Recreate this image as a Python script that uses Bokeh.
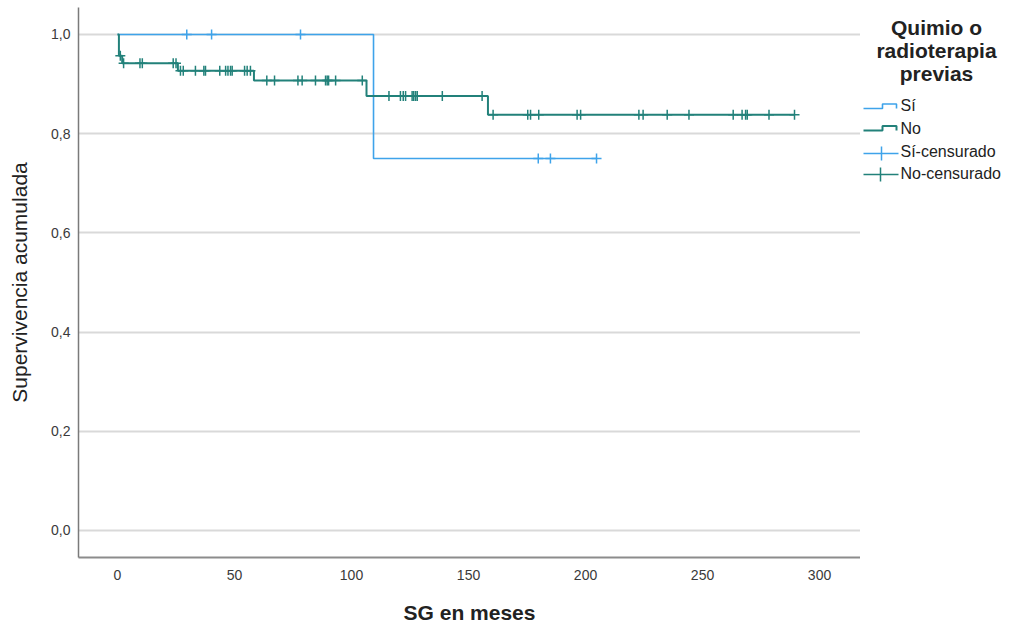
from bokeh.plotting import figure
from bokeh.layouts import row
from bokeh.models import Range1d, FixedTicker, CustomJSTickFormatter
from bokeh.embed import file_html
from bokeh.resources import INLINE
from bokeh.core.properties import value

# ---------------- data ----------------
si_time = [0.0, 109.4, 204.7]
si_surv = [1.0, 0.75, 0.75]
si_cens_time = [29.6, 40.2, 78.2, 179.8, 185.0, 204.7]
si_cens_surv = [1.0, 1.0, 1.0, 0.75, 0.75, 0.75]

no_time = [0.0, 0.6, 2.0, 25.8, 58.3, 106.4, 158.3, 289.3]
no_surv = [1.0, 0.957, 0.942, 0.927, 0.907, 0.876, 0.838, 0.838]
no_cens_time = [1.2, 2.6, 9.6, 10.6, 23.8, 25.0,
                26.9, 28.1, 33.3, 36.9, 37.6, 43.7, 46.2, 47.2, 48.3, 49.0, 54.3, 55.4, 56.8,
                63.8, 67.1, 77.1, 78.9, 84.6, 88.9, 89.6, 90.2, 93.2, 104.6,
                116.0, 120.9, 122.1, 123.1, 125.9, 126.6, 127.4, 128.1, 138.8, 155.8,
                160.5, 175.3, 176.5, 180.0, 196.4, 197.9, 222.8, 224.6, 234.9, 244.2,
                263.1, 266.9, 268.4, 269.1, 278.4, 289.3]
no_cens_surv = [0.957, 0.942, 0.942, 0.942, 0.942, 0.942,
                0.927, 0.927, 0.927, 0.927, 0.927, 0.927, 0.927, 0.927, 0.927, 0.927, 0.927, 0.927, 0.927,
                0.907, 0.907, 0.907, 0.907, 0.907, 0.907, 0.907, 0.907, 0.907, 0.907,
                0.876, 0.876, 0.876, 0.876, 0.876, 0.876, 0.876, 0.876, 0.876, 0.876,
                0.838, 0.838, 0.838, 0.838, 0.838, 0.838, 0.838, 0.838, 0.838, 0.838,
                0.838, 0.838, 0.838, 0.838, 0.838, 0.838]

x_ticks = [0, 50, 100, 150, 200, 250, 300]
y_ticks = [0.0, 0.2, 0.4, 0.6, 0.8, 1.0]
x_label = "SG en meses"
y_label = "Supervivencia acumulada"
legend_title = ["Quimio o", "radioterapia", "previas"]
legend_labels = ["Sí", "No", "Sí-censurado", "No-censurado"]

BLUE = "#3ea3ea"
GREEN = "#22817a"
FONT = "Liberation Sans"
H = 628
TOP, BOTTOM = 7, 71          # frame spans pixel rows 7 .. 557

# ---------------- main plot ----------------
p = figure(width=860, height=H,
           x_range=Range1d(-16.67, 317.5), y_range=Range1d(-0.0545, 1.0544),
           output_backend="svg", toolbar_location=None,
           min_border_left=78, min_border_right=0, min_border_top=TOP, min_border_bottom=BOTTOM)
p.outline_line_color = None
p.background_fill_color = "white"
p.border_fill_color = "white"

p.step(si_time, si_surv, mode="after", line_color=BLUE, line_width=1.6)
p.step(no_time, no_surv, mode="after", line_color=GREEN, line_width=2)
p.scatter(si_cens_time, si_cens_surv, marker="cross", size=10, line_color=BLUE, line_width=1.5)
p.scatter(no_cens_time, no_cens_surv, marker="cross", size=10, line_color=GREEN, line_width=1.5)

p.xaxis.ticker = FixedTicker(ticks=x_ticks)
p.yaxis.ticker = FixedTicker(ticks=y_ticks)
p.yaxis.formatter = CustomJSTickFormatter(code="return tick.toFixed(1).replace('.', ',');")
for ax in (p.xaxis, p.yaxis):
    ax.major_tick_line_color = None
    ax.minor_tick_line_color = None
    ax.major_tick_out = 0
    ax.major_label_text_font = FONT
    ax.major_label_text_font_size = "14px"
    ax.major_label_text_color = "#3a3a3a"
    ax.axis_label_text_font = FONT
    ax.axis_label_text_color = "#222222"
    ax.axis_label_text_font_style = "normal"

p.xaxis.axis_label = x_label
p.xaxis.axis_label_text_font_size = "21px"
p.xaxis.axis_label_text_font_style = "bold"
p.xaxis.axis_label_standoff = 18
p.xaxis.major_label_standoff = 12
p.xaxis.axis_line_color = "#8c8c8c"
p.xaxis.axis_line_width = 2

p.yaxis.axis_label = y_label
p.yaxis.axis_label_text_font_size = "21px"
p.yaxis.axis_label_standoff = 17
p.yaxis.major_label_standoff = 8
p.yaxis.axis_line_color = "#7a7a7a"
p.yaxis.axis_line_width = 1.5

p.xgrid.grid_line_color = None
p.ygrid.grid_line_color = "#d9d9d9"
p.ygrid.grid_line_width = 2

# ---------------- legend panel (pixel coordinates, same frame rows as plot) ----------------
LW = 150
lf = figure(width=LW, height=H, x_range=Range1d(0, LW), y_range=Range1d(H - BOTTOM, TOP),
            output_backend="svg", toolbar_location=None,
            x_axis_type=None, y_axis_type=None,
            min_border_left=0, min_border_right=0, min_border_top=TOP, min_border_bottom=BOTTOM)
lf.outline_line_color = None
lf.grid.visible = False
lf.background_fill_color = "white"
lf.border_fill_color = "white"

lf.text(x=[76, 76, 76], y=[27, 50, 73], text=legend_title,
        text_align="center", text_baseline="middle",
        text_font=value(FONT), text_font_style="bold", text_font_size="21px",
        text_color="#222222")

lf.text(x=[40, 40, 40, 40], y=[105, 128, 151, 173], text=legend_labels,
        text_align="left", text_baseline="middle",
        text_font=value(FONT), text_font_size="16px", text_color="#222222")

# step icons
lf.line([3, 22, 22, 36, 36], [108, 108, 103.5, 103.5, 108], line_color=BLUE, line_width=1.6)
lf.line([3, 22, 22, 36, 36], [130, 130, 125.5, 125.5, 130], line_color=GREEN, line_width=2)
# censored icons
lf.line([3, 38], [153, 153], line_color=BLUE, line_width=1.5)
lf.line([21, 21], [146, 160], line_color=BLUE, line_width=1.5)
lf.line([3, 38], [174, 174], line_color=GREEN, line_width=1.5)
lf.line([20, 20], [167, 181], line_color=GREEN, line_width=1.5)

layout = row(p, lf)
open("out.html", "w").write(file_html(layout, INLINE))
